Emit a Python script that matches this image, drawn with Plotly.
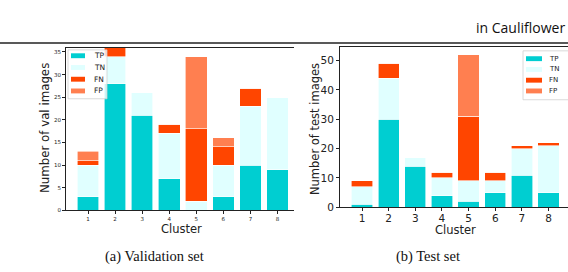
import plotly.graph_objects as go

W, H = 568, 272

clusters = [1, 2, 3, 4, 5, 6, 7, 8]
series = ["TP", "TN", "FN", "FP"]
colors = {"TP": "#00CED1", "TN": "#E0FFFF", "FN": "#FF4500", "FP": "#FF7F50"}

# Validation set counts
val_tp = [3, 28, 21, 7, 0, 3, 10, 9]
val_tn = [7, 6, 5, 10, 2, 7, 13, 16]
val_fn = [1, 2, 0, 2, 16, 4, 4, 0]
val_fp = [2, 0, 0, 0, 16, 2, 0, 0]

# Test set counts
test_tp = [1, 30, 14, 4, 2, 5, 11, 5]
test_tn = [6, 14, 3, 6, 7, 4, 9, 16]
test_fn = [2, 5, 0, 2, 22, 3, 1, 1]
test_fp = [0, 0, 0, 0, 21, 0, 0, 0]

val = {"TP": val_tp, "TN": val_tn, "FN": val_fn, "FP": val_fp}
test = {"TP": test_tp, "TN": test_tn, "FN": test_fn, "FP": test_fp}

def px_x(x):
    return x / W

def px_y(y):
    return 1 - y / H

fig = go.Figure()

for name in series:
    fig.add_trace(go.Bar(x=clusters, y=val[name], name=name, width=0.8,
                         marker=dict(color=colors[name], line=dict(color="white", width=0.6)),
                         xaxis="x", yaxis="y", showlegend=False))
for name in series:
    fig.add_trace(go.Bar(x=clusters, y=test[name], name=name, width=0.8,
                         marker=dict(color=colors[name], line=dict(color="white", width=0.6)),
                         xaxis="x2", yaxis="y2", showlegend=False))

axis_common = dict(showline=True, linecolor="#222", linewidth=1, ticks="outside",
                   tickcolor="#222", ticklen=3, tickwidth=0.8, showgrid=False, zeroline=False)

fig.update_layout(
    width=W, height=H, margin=dict(l=0, r=0, t=0, b=0),
    plot_bgcolor="white", paper_bgcolor="white", barmode="stack",
    font=dict(family="DejaVu Sans", color="#222"),
    xaxis=dict(domain=[px_x(66), px_x(294)], range=[0.187, 8.61], tickvals=clusters,
               tickfont=dict(size=5.5), mirror=True, anchor="y", **axis_common),
    yaxis=dict(domain=[px_y(215), px_y(49)], range=[0, 35.9], tickvals=list(range(0, 36, 5)),
               tickfont=dict(size=5.5), anchor="x", **axis_common),
    xaxis2=dict(domain=[px_x(340), 1.0], range=[0.174, 8.73], tickvals=clusters,
                tickfont=dict(size=10.5), mirror=True, anchor="y2", ticklabelstandoff=-2,
                **axis_common),
    yaxis2=dict(domain=[px_y(212), px_y(48)], range=[0, 54.6], tickvals=list(range(0, 51, 10)),
                tickfont=dict(size=10.5), anchor="x2", **axis_common),
)

ann = []
shapes = []

def text(t, x, y, size, family="DejaVu Sans", color="#222", angle=0, xanchor="center"):
    ann.append(dict(text=t, x=px_x(x), y=px_y(y), xref="paper", yref="paper",
                    xanchor=xanchor, yanchor="middle", showarrow=False, textangle=angle,
                    font=dict(size=size, family=family, color=color)))

# axis titles
text("Cluster", 181, 234, 11.5)
text("Number of val images", 45, 131, 11.8, angle=-90)
text("Cluster", 455, 235, 11.5)
text("Number of test images", 315, 132, 11.5, angle=-90)

# captions
text("(a) Validation set", 154, 262, 14.5, family="Liberation Serif", color="#111")
text("(b) Test set", 428, 262, 14.5, family="Liberation Serif", color="#111")

# page header text and rule
text("in Cauliflower", 567, 28, 14, family="Open Sans", color="#111", xanchor="right")
shapes.append(dict(type="line", xref="paper", yref="paper", x0=0, x1=1, y0=px_y(44), y1=px_y(44),
                   line=dict(color="#222", width=1.6)))

# legends
def legend(box, sw_x, txt_x, ys, fsize):
    x0, y0, x1, y1 = box
    shapes.append(dict(type="rect", xref="paper", yref="paper", x0=px_x(x0), x1=px_x(x1),
                       y0=px_y(y1), y1=px_y(y0), fillcolor="rgba(255,255,255,0.8)",
                       line=dict(color="#d0d0d0", width=0.8)))
    for name, yc in zip(series, ys):
        shapes.append(dict(type="rect", xref="paper", yref="paper", x0=px_x(sw_x[0]), x1=px_x(sw_x[1]),
                           y0=px_y(yc + 2.5), y1=px_y(yc - 2.5), fillcolor=colors[name],
                           line=dict(width=0)))
        text(name, txt_x, yc, fsize, xanchor="left")

legend((68, 51, 107, 101), (71, 85), 92, [57, 69, 81, 93], 7.5)
legend((523, 52, 570, 102), (526, 542), 547, [60, 71, 82, 93], 7)

fig.update_layout(annotations=ann, shapes=shapes)

page_css = (
    "var de=document.documentElement, b=document.body;"
    "[de,b].forEach(function(e){e.style.margin='0';e.style.padding='0';"
    "e.style.overflow='hidden';e.style.height='272px';e.style.width='568px';});"
    "Array.prototype.forEach.call(b.children,function(c){c.style.lineHeight='0';c.style.fontSize='0';});"
)
fig.write_html("out.html", config={"displayModeBar": False}, post_script=page_css)
